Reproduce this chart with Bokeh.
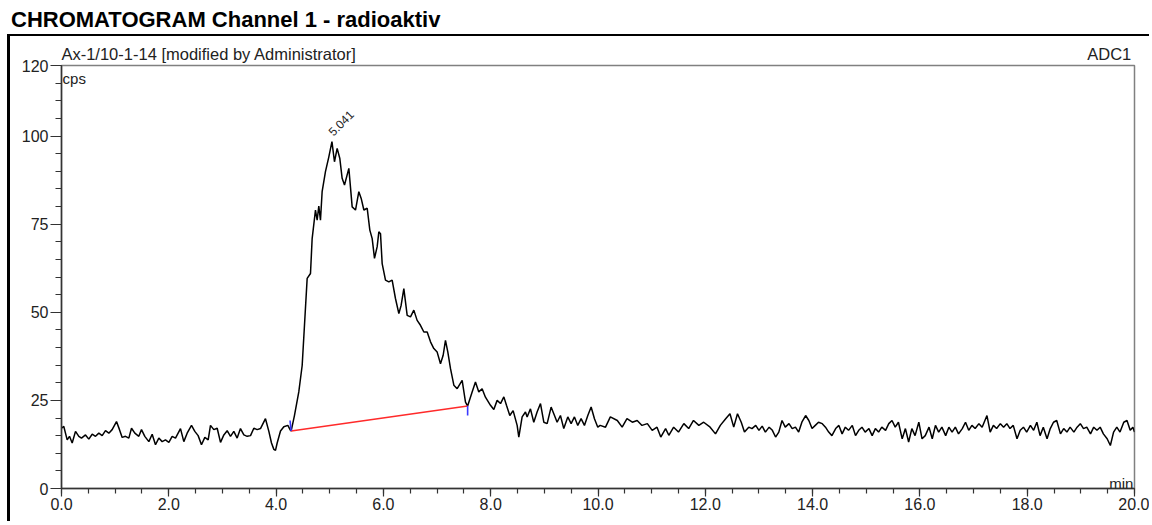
from bokeh.plotting import figure
from bokeh.layouts import column
from bokeh.models import (Range1d, FixedTicker, PrintfTickFormatter, Label, LinearAxis, Div)
from bokeh.embed import file_html
from bokeh.resources import INLINE

FONT = "Liberation Sans"

title_text = "CHROMATOGRAM Channel 1 - radioaktiv"
sample_text = "Ax-1/10-1-14 [modified by Administrator]"
channel_text = "ADC1"
y_unit = "cps"
x_unit = "min"

x_ticks = [0, 2, 4, 6, 8, 10, 12, 14, 16, 18, 20]
x_minor = [i * 0.5 for i in range(41)]
y_ticks = [0, 25, 50, 75, 100, 120]
y_minor = [i * 5 for i in range(25)]

# baseline before the peak (0 - 4.3 min)
pre_t = [0.000, 0.043, 0.106, 0.149, 0.199, 0.261, 0.323, 0.373, 0.447, 0.509, 0.572, 0.634,
         0.696, 0.758, 0.820, 0.882, 0.944, 1.025, 1.081, 1.131, 1.193, 1.255, 1.305, 1.367,
         1.441, 1.491, 1.553, 1.628, 1.690, 1.752, 1.814, 1.876, 1.938, 2.001, 2.063, 2.125,
         2.218, 2.280, 2.342, 2.423, 2.485, 2.547, 2.609, 2.672, 2.734, 2.777, 2.839, 2.902,
         2.964, 3.026, 3.088, 3.150, 3.212, 3.274, 3.336, 3.399, 3.461, 3.523, 3.585, 3.647,
         3.709, 3.802, 3.865, 3.914, 3.958, 3.989, 4.020, 4.082, 4.144, 4.219, 4.268]
pre_v = [17.1, 17.6, 13.8, 14.8, 12.9, 16.2, 14.8, 14.3, 15.2, 14.0, 15.4, 14.8,
         15.7, 15.0, 16.4, 15.7, 16.7, 19.0, 16.7, 14.5, 14.8, 14.3, 17.1, 15.7,
         14.8, 16.7, 14.8, 13.3, 15.4, 12.4, 14.3, 13.3, 13.8, 13.1, 14.8, 14.3,
         17.0, 13.3, 15.7, 17.9, 16.2, 15.0, 12.4, 14.5, 13.8, 17.9, 16.7, 17.1,
         13.1, 15.2, 16.4, 14.8, 16.2, 14.3, 17.0, 15.2, 14.8, 15.0, 17.1, 16.7,
         17.0, 19.8, 16.2, 12.9, 11.1, 10.8, 12.9, 16.3, 17.5, 17.9, 16.5]

# peak (4.3 - 7.9 min)
peak_t = [4.280, 4.342, 4.423, 4.486, 4.529, 4.579, 4.641, 4.672, 4.734, 4.765, 4.796, 4.827,
          4.858, 4.920, 4.983, 5.041, 5.088, 5.138, 5.188, 5.231, 5.275, 5.356, 5.418, 5.480,
          5.542, 5.586, 5.636, 5.698, 5.747, 5.791, 5.834, 5.884, 5.915, 5.946, 5.977, 6.039,
          6.101, 6.163, 6.225, 6.288, 6.331, 6.381, 6.443, 6.505, 6.567, 6.629, 6.691, 6.754,
          6.816, 6.878, 6.940, 7.002, 7.064, 7.114, 7.157, 7.201, 7.251, 7.313, 7.375, 7.468,
          7.530, 7.570, 7.654, 7.716, 7.778, 7.840, 7.902]
peak_v = [16.3, 20.7, 27.4, 34.9, 46.3, 59.6, 61.0, 70.9, 79.0, 76.1, 80.1, 76.1,
          84.2, 89.9, 94.1, 98.4, 92.7, 96.5, 93.6, 88.0, 86.1, 90.8, 79.9, 79.0,
          84.2, 82.3, 79.0, 79.5, 73.3, 70.9, 65.3, 68.6, 72.8, 72.3, 63.8, 59.1,
          58.6, 59.1, 53.9, 49.6, 52.0, 56.7, 49.1, 48.7, 50.6, 47.7, 46.3, 44.4,
          44.4, 41.6, 39.7, 38.7, 35.4, 37.8, 42.0, 38.7, 34.0, 29.3, 28.3, 30.7,
          24.5, 23.4, 27.4, 30.2, 27.4, 28.3, 25.9]

# tail (8 - 12 min)
tail_t = [7.996, 8.058, 8.120, 8.183, 8.245, 8.294, 8.356, 8.418, 8.493, 8.524, 8.586, 8.648,
          8.679, 8.741, 8.803, 8.865, 8.928, 8.990, 9.052, 9.126, 9.189, 9.238, 9.300, 9.362,
          9.437, 9.499, 9.561, 9.623, 9.685, 9.747, 9.810, 9.872, 9.934, 9.996, 10.04, 10.14,
          10.23, 10.36, 10.45, 10.54, 10.64, 10.73, 10.82, 10.92, 11.01, 11.10, 11.17, 11.26,
          11.32, 11.41, 11.50, 11.60, 11.69, 11.78, 11.88, 11.97]
tail_v = [23.6, 22.4, 25.0, 24.1, 26.0, 23.6, 20.7, 22.1, 17.9, 14.6, 20.3, 21.7,
          20.3, 22.6, 18.8, 21.7, 24.1, 18.8, 18.4, 23.1, 20.7, 18.8, 20.7, 17.0,
          20.3, 18.4, 20.3, 17.9, 19.8, 17.9, 20.7, 23.1, 19.8, 17.4, 17.9, 17.4,
          20.3, 19.3, 17.4, 19.8, 18.8, 19.3, 17.9, 18.4, 16.5, 17.4, 14.6, 17.0,
          15.1, 17.4, 16.0, 18.4, 17.0, 19.3, 17.9, 18.8]

# late baseline (12 - 16 min)
late_t = [12.09, 12.19, 12.28, 12.38, 12.46, 12.53, 12.60, 12.67, 12.73, 12.81, 12.87, 12.94,
          13.00, 13.06, 13.12, 13.19, 13.25, 13.31, 13.37, 13.43, 13.49, 13.56, 13.62, 13.68,
          13.74, 13.80, 13.87, 13.93, 13.99, 14.05, 14.11, 14.18, 14.24, 14.30, 14.36, 14.43,
          14.49, 14.55, 14.61, 14.67, 14.74, 14.80, 14.86, 14.92, 14.98, 15.05, 15.11, 15.17,
          15.23, 15.29, 15.36, 15.42, 15.48, 15.54, 15.60, 15.67, 15.73, 15.79, 15.85, 15.91,
          15.98, 16.04]
late_v = [17.4, 15.5, 17.9, 19.8, 21.2, 17.4, 21.2, 18.8, 16.0, 17.4, 17.0, 17.9,
          16.5, 17.7, 16.0, 17.4, 16.5, 14.6, 16.0, 19.3, 17.4, 18.4, 17.0, 17.4,
          16.0, 18.8, 20.7, 19.3, 17.0, 17.9, 18.8, 18.4, 17.4, 16.0, 15.0, 17.0,
          17.9, 15.5, 17.4, 16.5, 17.9, 15.0, 16.5, 17.4, 16.0, 17.0, 15.0, 17.0,
          16.0, 17.4, 16.5, 18.4, 19.3, 17.4, 18.8, 14.1, 17.0, 13.2, 17.0, 15.0,
          18.8, 14.1]

# end of run (16 - 20 min)
end_t = [16.10, 16.17, 16.23, 16.29, 16.35, 16.41, 16.48, 16.54, 16.60, 16.66, 16.72, 16.79,
         16.85, 16.91, 16.97, 17.03, 17.10, 17.16, 17.25, 17.31, 17.37, 17.43, 17.50, 17.56,
         17.62, 17.68, 17.74, 17.81, 17.87, 17.93, 17.99, 18.06, 18.12, 18.18, 18.24, 18.30,
         18.37, 18.43, 18.49, 18.55, 18.62, 18.68, 18.74, 18.80, 18.87, 18.93, 18.99, 19.05,
         19.11, 19.18, 19.24, 19.30, 19.36, 19.42, 19.49, 19.55, 19.61, 19.67, 19.73, 19.80,
         19.86, 19.92, 19.97, 20.00]
end_v = [15.0, 17.4, 14.1, 17.9, 16.0, 17.4, 15.0, 17.4, 16.0, 17.4, 15.5, 17.0,
         18.8, 16.5, 17.9, 17.0, 18.4, 17.4, 20.7, 16.0, 17.9, 17.0, 18.4, 17.4,
         18.4, 17.0, 17.9, 14.1, 16.5, 17.4, 16.0, 17.9, 16.5, 18.8, 15.0, 17.4,
         14.1, 17.0, 18.8, 19.3, 15.5, 17.0, 16.0, 17.4, 16.0, 17.4, 18.4, 17.0,
         17.4, 15.5, 17.4, 16.5, 17.4, 15.5, 14.1, 12.2, 16.0, 17.4, 16.0, 18.8,
         19.3, 16.5, 17.4, 16.0]

# integration baseline and peak
base_t = [4.28, 7.57]
base_v = [16.3, 23.4]
peak_rt = 5.041
peak_cps = 98.4

time_min = pre_t + peak_t + tail_t + late_t + end_t
signal_cps = pre_v + peak_v + tail_v + late_v + end_v

# header line texts: centres (in min) of the two captions above the frame
header_pos = [2.751, 19.53]
header_text = [sample_text, channel_text]

title_div = Div(
    text=('<div style="font-family:\'Liberation Sans\';font-size:22px;font-weight:bold;'
          'line-height:22px;color:#000;padding:9px 0 0 11px;white-space:nowrap;">'
          + title_text + '</div>'),
    width=1152, height=34, margin=(0, 0, 0, 0))

p = figure(width=1142, height=487, output_backend="svg", toolbar_location=None,
           x_range=Range1d(0, 20), y_range=Range1d(0, 120),
           min_border_left=51, min_border_right=18, min_border_top=29, min_border_bottom=35,
           margin=(0, 0, 0, 7),
           styles={"border-left": "3px solid black", "border-top": "2px solid black"})
p.background_fill_color = "white"
p.border_fill_color = "white"
p.grid.visible = False
p.outline_line_color = "#808080"
p.outline_line_width = 1.5

for ax in (p.xaxis[0], p.yaxis[0]):
    ax.axis_line_color = "#333333"
    ax.axis_line_width = 1.5
    ax.major_tick_line_color = "#333333"
    ax.minor_tick_line_color = "#333333"
    ax.major_tick_line_width = 1.2
    ax.minor_tick_line_width = 1.2
    ax.major_tick_in = 0
    ax.minor_tick_in = 0
    ax.major_label_text_font = FONT
    ax.major_label_text_font_size = "16px"
    ax.major_label_text_color = "#222222"

p.xaxis.ticker = FixedTicker(ticks=x_ticks, minor_ticks=x_minor)
p.xaxis.formatter = PrintfTickFormatter(format="%.1f")
p.xaxis.major_tick_out = 8
p.xaxis.minor_tick_out = 5
p.xaxis.major_label_standoff = 1

p.yaxis.ticker = FixedTicker(ticks=y_ticks, minor_ticks=y_minor)
p.yaxis.major_tick_out = 11
p.yaxis.minor_tick_out = 6
p.yaxis.major_label_standoff = 2

# captions above the frame, drawn as an axis with hidden line and ticks
top_axis = LinearAxis(ticker=FixedTicker(ticks=header_pos, minor_ticks=[]),
                      major_label_overrides={header_pos[0]: header_text[0],
                                             header_pos[1]: header_text[1]},
                      axis_line_color=None, major_tick_line_color=None,
                      minor_tick_line_color=None, major_tick_out=0, major_tick_in=0,
                      major_label_standoff=3, major_label_text_font=FONT,
                      major_label_text_font_size="16.5px", major_label_text_color="#222222")
p.add_layout(top_axis, "above")

p.line(time_min, signal_cps, line_color="black", line_width=1.5)
p.line(base_t, base_v, line_color="#ff2a2a", line_width=1.5)
p.segment(x0=[base_t[0], base_t[1]], y0=[base_v[0], base_v[1]],
          x1=[base_t[0] - 0.02, base_t[1]], y1=[base_v[0] + 3.0, base_v[1] - 2.7],
          line_color="#3a3aff", line_width=1.6)

p.add_layout(Label(x=peak_rt - 0.03, y=peak_cps + 2.3, text=f"{peak_rt:.3f}", angle=45,
                   angle_units="deg", text_font=FONT, text_font_size="12px",
                   text_color="#222222", text_baseline="alphabetic", text_align="left"))
p.add_layout(Label(x=0.02, y=116.3, text=y_unit, text_font=FONT, text_font_size="15px",
                   text_color="#222222", text_baseline="alphabetic"))
p.add_layout(Label(x=19.98, y=1.4, text=x_unit, text_font=FONT, text_font_size="15px",
                   text_color="#222222", text_baseline="alphabetic", text_align="right"))

layout = column(title_div, p, spacing=0)
open("out.html", "w").write(file_html(layout, INLINE))
